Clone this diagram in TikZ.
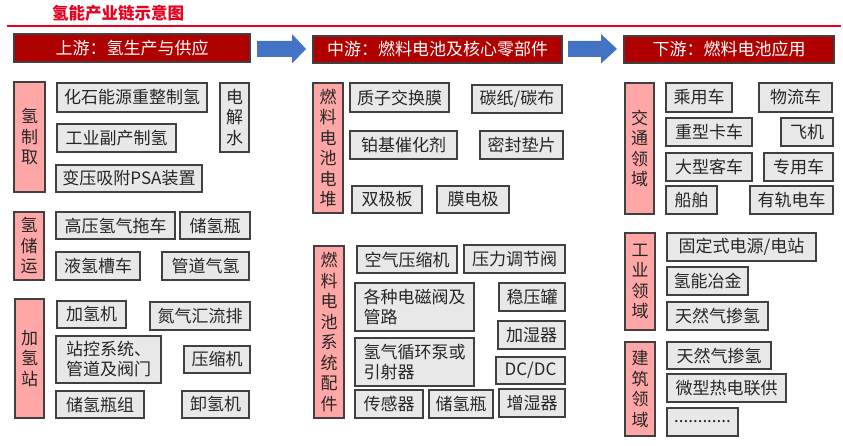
\documentclass[tikz,border=0pt]{standalone}
\usepackage{fontspec}
\newfontfamily\cjk{Noto Sans CJK SC}
\definecolor{hdrred}{RGB}{176,0,0}
\definecolor{pinkf}{RGB}{255,166,166}
\definecolor{grayf}{RGB}{232,232,232}
\definecolor{bordc}{RGB}{64,64,64}
\definecolor{txtc}{RGB}{38,38,38}
\definecolor{titlered}{RGB}{232,0,30}
\definecolor{arrblue}{RGB}{68,114,196}
\tikzset{
  base/.style={draw=bordc, line width=1.1pt, inner sep=0pt, text=txtc,
    font=\cjk\fontsize{17}{20}\selectfont, align=left},
  itembox/.style={base, fill=grayf},
  catbox/.style={base, fill=pinkf, align=center, font=\cjk\fontsize{17}{20.5}\selectfont},
  vgray/.style={base, fill=grayf, align=center, font=\cjk\fontsize{17}{20.5}\selectfont},
  hdrbox/.style={base, fill=hdrred, text=white, align=center},
  bigarrow/.style={fill=arrblue}
}
\newcommand\bx[7][itembox]{%
  \node[#1, minimum width={#5-#3}, minimum height={#6-#4}] (#2) at ({(#3+#5)/2},{(#4+#6)/2}) {#7};}
\newcommand\vt[1]{\begin{tabular}{@{}c@{}}#1\end{tabular}}
\begin{document}
\begin{tikzpicture}[x=1pt,y=-1pt]
\useasboundingbox (0,0) rectangle (843,446);
% title and rule
\node[anchor=west, inner sep=0pt, text=titlered, font=\cjk\bfseries\fontsize{16.5}{18}\selectfont] (title) at (52,13.5) {氢能产业链示意图};
\coordinate (ruleL) at (7,26);
\coordinate (ruleR) at (841,26);
\draw[titlered, line width=2pt] (ruleL) -- (ruleR);
% headers
\bx[hdrbox]{h1}{14}{34}{250}{62}{上游：氢生产与供应}
\bx[hdrbox]{h2}{313}{36}{562}{63}{中游：燃料电池及核心零部件}
\bx[hdrbox]{h3}{624}{36}{834}{63}{下游：燃料电池应用}
% arrows
\fill[bigarrow] (257,41) -- (292,41) -- (292,34) -- (306,49) -- (292,63.5) -- (292,57) -- (257,57) -- cycle;
\fill[bigarrow] (568,41) -- (601,41) -- (601,34) -- (617,49) -- (601,63.5) -- (601,57) -- (568,57) -- cycle;
% left column
\bx[catbox]{l1}{14}{82}{45}{192}{氢\\制\\取}
\bx{l1a}{57}{83}{207}{112}{化石能源重整制氢}
\bx{l1b}{57}{124}{176}{152}{工业副产制氢}
\bx{l1c}{56}{165}{202}{192}{变压吸附PSA装置}
\bx[vgray]{l1d}{220}{83}{249}{152}{电\\解\\水}
\bx[catbox]{l2}{14}{212}{44}{280}{氢\\储\\运}
\bx{l2a}{56}{212}{175}{239}{高压氢气拖车}
\bx{l2b}{180}{212}{250}{239}{储氢瓶}
\bx{l2c}{56}{252}{140}{280}{液氢槽车}
\bx{l2d}{162}{252}{249}{280}{管道气氢}
\bx[catbox]{l3}{15}{299}{44}{418}{加\\氢\\站}
\bx{l3a}{57}{301}{126}{328}{加氢机}
\bx{l3b}{150}{302}{250}{330}{氮气汇流排}
\bx{l3c}{56}{336}{161}{383}{站控系统、\\管道及阀门}
\bx{l3d}{184}{346}{250}{373}{压缩机}
\bx{l3e}{56}{391}{144}{418}{储氢瓶组}
\bx{l3f}{182}{391}{249}{418}{卸氢机}
% middle column
\bx[catbox]{m1}{313}{83}{343}{213}{燃\\料\\电\\池\\电\\堆}
\bx{m1a}{350}{83}{449}{112}{质子交换膜}
\bx{m1b}{472}{85}{562}{113}{碳纸/碳布}
\bx{m1c}{350}{131}{457}{159}{铂基催化剂}
\bx{m1d}{480}{131}{563}{159}{密封垫片}
\bx{m1e}{352}{186}{422}{213}{双极板}
\bx{m1f}{437}{186}{509}{213}{膜电极}
\bx[catbox]{m2}{314}{246}{344}{418}{燃\\料\\电\\池\\系\\统\\配\\件}
\bx{m2a}{357}{246}{457}{273}{空气压缩机}
\bx{m2b}{464}{245}{565}{273}{压力调节阀}
\bx{m2c}{355}{283}{474}{331}{各种电磁阀及\\管路}
\bx{m2d}{499}{283}{565}{311}{稳压罐}
\bx{m2e}{498}{321}{565}{349}{加湿器}
\bx{m2f}{355}{338}{474}{386}{氢气循环泵或\\引射器}
\bx{m2g}{496}{357}{565}{384}{DC/DC}
\bx{m2h}{355}{390}{423}{418}{传感器}
\bx{m2i}{429}{390}{493}{418}{储氢瓶}
\bx{m2j}{499}{389}{565}{417}{增湿器}
% right column
\bx[catbox]{r1}{625}{83}{654}{214}{交\\通\\领\\域}
\bx{r1a}{666}{83}{732}{112}{乘用车}
\bx{r1b}{759}{83}{832}{112}{物流车}
\bx{r1c}{666}{118}{752}{146}{重型卡车}
\bx{r1d}{781}{118}{833}{146}{飞机}
\bx{r1e}{666}{153}{752}{181}{大型客车}
\bx{r1f}{764}{153}{833}{181}{专用车}
\bx{r1g}{666}{186}{717}{214}{船舶}
\bx{r1h}{750}{186}{833}{214}{有轨电车}
\bx[catbox]{r2}{625}{233}{655}{330}{工\\业\\领\\域}
\bx{r2a}{667}{233}{816}{261}{固定式电源/电站}
\bx{r2b}{667}{267}{748}{295}{氢能冶金}
\bx{r2c}{667}{302}{768}{330}{天然气掺氢}
\bx[catbox]{r3}{625}{342}{655}{436}{建\\筑\\领\\域}
\bx{r3a}{667}{342}{771}{369}{天然气掺氢}
\bx{r3b}{667}{374}{786}{402}{微型热电联供}
\bx{r3c}{667}{408}{738}{436}{............}
\end{tikzpicture}
\end{document}
